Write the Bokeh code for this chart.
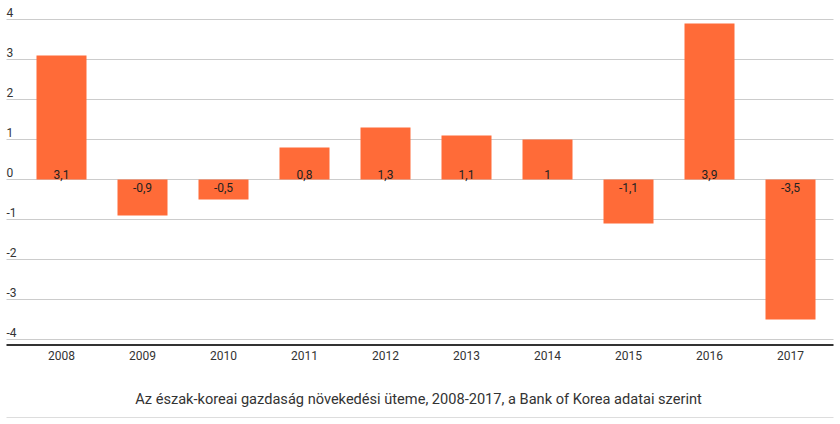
from bokeh.plotting import figure
from bokeh.models import Range1d, ColumnDataSource, Label
from bokeh.embed import file_html
from bokeh.resources import INLINE
from bokeh.core.properties import value

years = ["2008", "2009", "2010", "2011", "2012", "2013", "2014", "2015", "2016", "2017"]
growth = [3.1, -0.9, -0.5, 0.8, 1.3, 1.1, 1.0, -1.1, 3.9, -3.5]
y_ticks = [4, 3, 2, 1, 0, -1, -2, -3, -4]
caption = "Az észak-koreai gazdaság növekedési üteme, 2008-2017, a Bank of Korea adatai szerint"

def fmt(v):
    s = ("%.1f" % v).replace(".", ",")
    if s.endswith(",0"):
        s = s[:-2]
    return s

W, H = 834, 418
SX = 81.0   # px per category
SY = 40.0   # px per unit
x0 = -61.0 / SX
x1 = x0 + W / SX
y1 = 179.0 / SY
y0 = y1 - H / SY
gx0 = (6 - 61.0) / SX
gx1 = (833 - 61.0) / SX

p = figure(width=W, height=H, output_backend="svg", toolbar_location=None,
           x_range=Range1d(x0, x1), y_range=Range1d(y0, y1),
           min_border=0, outline_line_color=None)
p.axis.visible = False
p.grid.visible = False
p.background_fill_color = "white"
p.border_fill_color = "white"

font = value("Roboto")

# gridlines
p.segment(x0=[gx0] * len(y_ticks), x1=[gx1] * len(y_ticks), y0=y_ticks, y1=y_ticks,
          line_color="#cccccc", line_width=1)

# y tick labels (above lines)
p.text(x=[gx0] * len(y_ticks), y=y_ticks, text=[str(t) for t in y_ticks],
       text_font=font, text_font_size="12px", text_color="#333333",
       text_baseline="bottom", text_align="left", y_offset=-3)

idx = list(range(len(years)))
src = ColumnDataSource(dict(x=idx, top=growth))
p.vbar(x="x", top="top", bottom=0, width=50 / SX, source=src,
       fill_color="#ff6b38", line_color=None)

pos = ColumnDataSource(dict(x=[i for i, v in zip(idx, growth) if v >= 0],
                            y=[0] * sum(1 for v in growth if v >= 0),
                            lab=[fmt(v) for v in growth if v >= 0]))
neg = ColumnDataSource(dict(x=[i for i, v in zip(idx, growth) if v < 0],
                            y=[0] * sum(1 for v in growth if v < 0),
                            lab=[fmt(v) for v in growth if v < 0]))
p.text(x="x", y="y", text="lab", source=pos, text_font=font, text_font_size="12px",
       text_color="#222222", text_align="center", text_baseline="bottom", y_offset=-1)
p.text(x="x", y="y", text="lab", source=neg, text_font=font, text_font_size="12px",
       text_color="#222222", text_align="center", text_baseline="top", y_offset=3)

# x axis line
p.segment(x0=[gx0], x1=[gx1], y0=[-165.5 / SY], y1=[-165.5 / SY], line_color="#333333", line_width=2)
# year labels
p.text(x=idx, y=[-176 / SY] * len(idx), text=years, text_font=font, text_font_size="12px",
       text_color="#333333", text_align="center", text_baseline="middle")

# caption
p.add_layout(Label(x=(418 - 61.0) / SX, y=-219 / SY, text=caption, text_font="Roboto",
                   text_font_size="14.6px", text_color="#333333", text_align="center",
                   text_baseline="middle"))
# bottom rule
p.segment(x0=[gx0], x1=[gx1], y0=[-238 / SY], y1=[-238 / SY], line_color="#dddddd", line_width=1)

open("out.html", "w").write(file_html(p, INLINE))
